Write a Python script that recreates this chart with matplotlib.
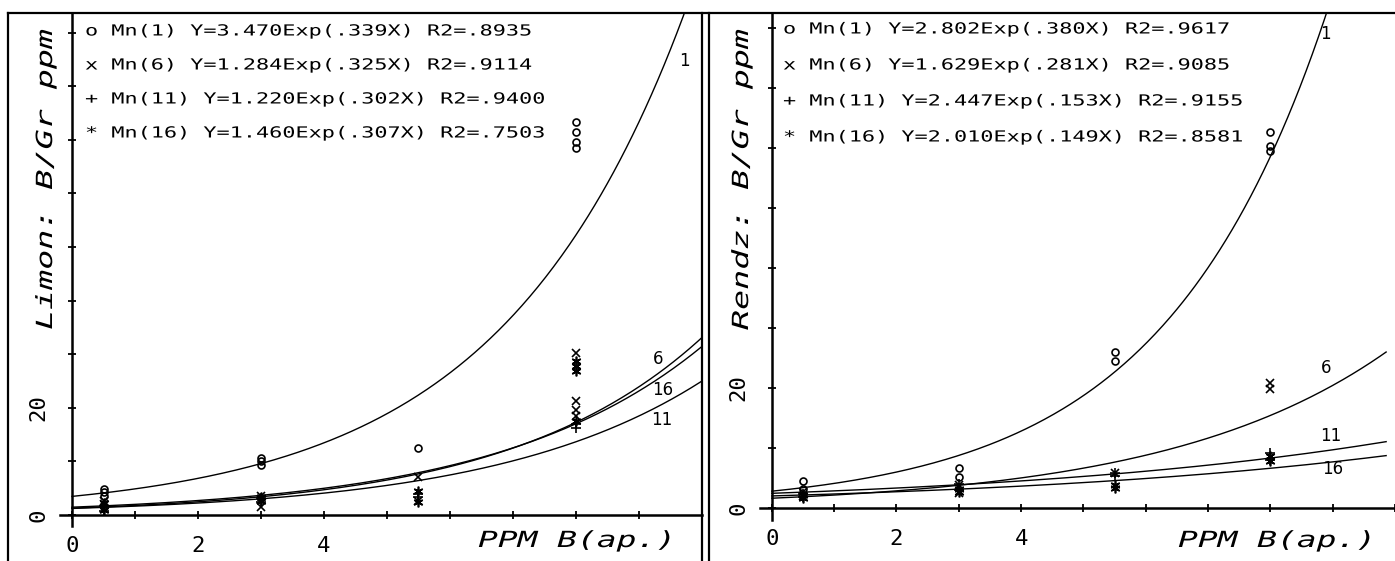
import numpy as np
import matplotlib.pyplot as plt
from matplotlib.lines import Line2D
from matplotlib.patheffects import AbstractPathEffect
from matplotlib.transforms import Affine2D

# fitted curves Y = a*Exp(b*X), one per Mn level
mn_levels = [1, 6, 11, 16]
symbols = ['o', 'x', '+', '*']

limon_a = [3.470, 1.284, 1.220, 1.460]
limon_b = [0.339, 0.325, 0.302, 0.307]
limon_r2 = [0.8935, 0.9114, 0.9400, 0.7503]

rendz_a = [2.802, 1.629, 2.447, 2.010]
rendz_b = [0.380, 0.281, 0.153, 0.149]
rendz_r2 = [0.9617, 0.9085, 0.9155, 0.8581]

# measured points, Limon soil
limon_mn1_x = [0.5, 0.5, 0.5, 3, 3, 3, 5.5, 8, 8, 8, 8]
limon_mn1_y = [3.5, 4.2, 4.8, 9.4, 10.0, 10.7, 12.5, 68.5, 69.5, 71.5, 73.3]
limon_mn6_x = [0.5, 0.5, 0.5, 3, 3, 3, 5.5, 5.5, 8, 8, 8, 8]
limon_mn6_y = [1.2, 2.0, 2.6, 1.4, 2.8, 3.6, 7.0, 2.6, 30.2, 21.2, 19.6, 18.4]
limon_mn11_x = [0.5, 0.5, 3, 3, 5.5, 5.5, 8, 8]
limon_mn11_y = [0.8, 1.6, 2.4, 3.2, 3.4, 4.0, 16.2, 17.0]
limon_mn16_x = [0.5, 0.5, 3, 3, 5.5, 5.5, 8, 8, 8, 8]
limon_mn16_y = [1.0, 2.2, 2.6, 3.4, 2.4, 4.4, 26.8, 27.8, 28.8, 17.5]

# measured points, Rendzina soil
rendz_mn1_x = [0.5, 0.5, 3, 3, 5.5, 5.5, 8, 8, 8]
rendz_mn1_y = [3.1, 4.5, 5.1, 6.7, 24.5, 26.0, 59.5, 60.3, 62.7]
rendz_mn6_x = [0.5, 0.5, 3, 3, 5.5, 8, 8]
rendz_mn6_y = [2.0, 2.7, 2.5, 3.8, 5.8, 19.8, 20.8]
rendz_mn11_x = [0.5, 0.5, 3, 3, 5.5, 5.5, 8, 8]
rendz_mn11_y = [1.8, 2.4, 3.0, 4.0, 5.4, 5.9, 8.0, 9.2]
rendz_mn16_x = [0.5, 0.5, 3, 3, 5.5, 5.5, 8, 8]
rendz_mn16_y = [1.7, 2.2, 2.6, 3.2, 3.4, 3.9, 7.9, 8.6]

W, H = 1395, 561
MONO = 'DejaVu Sans Mono'


def fx(x):
    return x / W


def fy(y):
    return 1 - y / H


class Stretch(AbstractPathEffect):
    # widen glyphs like the old plotter font
    def __init__(self, sx):
        super().__init__()
        self.sx = sx

    def draw_path(self, renderer, gc, tpath, affine, rgbFace=None):
        renderer.draw_path(gc, tpath, Affine2D().scale(self.sx, 1) + affine, rgbFace)


marker_style = {
    'o': dict(marker='o', ms=5, mfc='none', mew=1.2),
    'x': dict(marker='x', ms=6, mew=1.2),
    '+': dict(marker='+', ms=7, mew=1.2),
    '*': dict(marker=(6, 2, 0), ms=7, mew=1.2),
}


def fmt_eq(sym, mn, a, b, r2):
    return f"{sym} Mn({mn}) Y={a:.3f}Exp({b:.3f}X) R2={r2:.4f}".replace('(0.', '(.').replace('=0.', '=.')


def panel(rect, xlim, ylim, ymax_tick, a_list, b_list, pts, labels):
    ax = fig.add_axes(rect)
    ax.set_xlim(*xlim)
    ax.set_ylim(*ylim)
    for s in ['top', 'right']:
        ax.spines[s].set_visible(False)
    for s in ['left', 'bottom']:
        ax.spines[s].set_position(('data', 0))
        ax.spines[s].set_linewidth(1.8)
    xs = np.linspace(0, xlim[1], 400)
    for a, b in zip(a_list, b_list):
        ax.plot(xs, a * np.exp(b * xs), color='black', lw=1.0)
    for sym, (px, py) in zip(symbols, pts):
        ax.plot(px, py, ls='none', color='black', **marker_style[sym])
    for txt, x, y in labels:
        ax.text(x, y, txt, fontsize=12, ha='center', va='center', family='DejaVu Sans')
    ax.set_xticks(range(0, 11))
    ax.set_xticklabels(['0', '', '2', '', '4', '', '', '', '', '', ''])
    yt = list(range(0, ymax_tick + 1, 10))
    ax.set_yticks(yt)
    ax.set_yticklabels(['0', '', '20'] + [''] * (len(yt) - 3))
    ax.tick_params(direction='inout', length=6, width=1.3, labelsize=16, pad=12)
    for t in ax.get_yticklabels():
        t.set_rotation(90)
        t.set_va('center')
        t.set_ha('center')
    for t in ax.get_xticklabels() + ax.get_yticklabels():
        t.set_family(MONO)
    ax.tick_params(axis='y', pad=21)
    ax.patch.set_visible(False)
    return ax


fig = plt.figure(figsize=(W / 100, H / 100), dpi=100)

# left panel: Limon
panel([fx(60), fy(526), (702 - 60) / W, (526 - 13) / H], (-12 / 63, 10.0), (-11 / 5.36, 502 / 5.36), 90,
      limon_a, limon_b,
      [(limon_mn1_x, limon_mn1_y), (limon_mn6_x, limon_mn6_y),
       (limon_mn11_x, limon_mn11_y), (limon_mn16_x, limon_mn16_y)],
      [('1', 9.72, 84.7), ('6', 9.3, 29.1), ('16', 9.38, 23.4), ('11', 9.36, 17.8)])

# right panel: Rendzina
panel([fx(760), fy(520), (W - 760) / W, (520 - 13) / H], (-12 / 63.2, 623 / 63.2), (-2.0, 82.5), 80,
      rendz_a, rendz_b,
      [(rendz_mn1_x, rendz_mn1_y), (rendz_mn6_x, rendz_mn6_y),
       (rendz_mn11_x, rendz_mn11_y), (rendz_mn16_x, rendz_mn16_y)],
      [('1', 8.88, 79.0), ('6', 8.9, 23.4), ('11', 8.97, 12.0), ('16', 9.0, 6.5)])

# equation blocks
for i in range(4):
    fig.text(fx(85), fy(31 + 34 * i), fmt_eq(symbols[i], mn_levels[i], limon_a[i], limon_b[i], limon_r2[i]),
             family=MONO, fontsize=11, ha='left', va='center', path_effects=[Stretch(1.43)])
    fig.text(fx(783), fy(29 + 36 * i), fmt_eq(symbols[i], mn_levels[i], rendz_a[i], rendz_b[i], rendz_r2[i]),
             family=MONO, fontsize=11, ha='left', va='center', path_effects=[Stretch(1.43)])

# axis titles
fig.text(fx(46), fy(330), 'Limon: B/Gr ppm', rotation=90, family=MONO, style='italic', fontsize=16,
         ha='center', va='bottom', path_effects=[Stretch(1.5)])
fig.text(fx(742), fy(330), 'Rendz: B/Gr ppm', rotation=90, family=MONO, style='italic', fontsize=16,
         ha='center', va='bottom', path_effects=[Stretch(1.5)])
fig.text(fx(478), fy(547), 'PPM B(ap.)', family=MONO, style='italic', fontsize=16,
         ha='left', va='baseline', path_effects=[Stretch(1.48)])
fig.text(fx(1178), fy(547), 'PPM B(ap.)', family=MONO, style='italic', fontsize=16,
         ha='left', va='baseline', path_effects=[Stretch(1.48)])

# panel frames
frame = [((8, 8), (13, H)), ((8, W), (13, 13)), ((702, 702), (13, H)), ((709, 709), (13, H))]
for xs_, ys_ in frame:
    fig.add_artist(Line2D([fx(v) for v in xs_], [fy(v) for v in ys_], color='black', lw=1.6))

fig.savefig('out.png', dpi=100)
